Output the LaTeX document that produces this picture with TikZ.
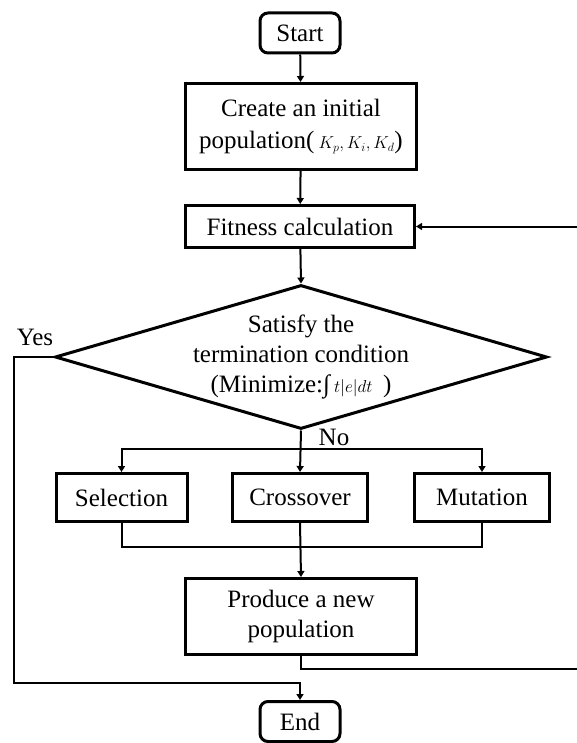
\documentclass[tikz,border=0pt]{standalone}
\usepackage{amsmath}
\usepackage{fontspec}
\setmainfont{Liberation Serif}
\usetikzlibrary{arrows.meta,shapes.geometric}

\newcommand\flowfont{\fontsize{25}{30}\selectfont}
\newcommand\smallmath{\fontsize{17}{17}\selectfont}

\begin{document}
\begin{tikzpicture}[x=1pt,y=-1pt,
  txt/.style={font=\flowfont, align=center, inner sep=0pt},
  box/.style={txt, draw, line width=3pt},
  term/.style={box, rounded corners=8pt, minimum width=80pt, minimum height=40pt},
  decision/.style={txt, diamond, draw, line width=3pt, shape aspect=3.4, inner sep=-12pt,
    minimum width=492pt, minimum height=144pt},
  flow/.style={line width=2pt, -{Triangle[length=6pt,width=7pt]}},
  link/.style={line width=2pt},
]
\useasboundingbox (0,0) rectangle (577,743);
\clip (0,0) rectangle (577,743);

% process boxes
\node[term] (start) at (300,33) {Start};
\node[box, minimum width=231pt, minimum height=86pt] (init) at (301,126.5)
  {Create an initial\\[2pt] population(\,{\smallmath$K_p,K_i,K_d$})};
\node[box, minimum width=229pt, minimum height=42pt] (fit) at (300,226.5) {Fitness calculation};

% decision
\node[decision] (dia) at (301,357)
  {Satisfy the\\termination condition\\(Minimize:∫\,{\smallmath$t|e|dt$}\, )};

% genetic operators
\node[box, minimum width=131pt, minimum height=48pt] (sel) at (121.5,497.5) {Selection};
\node[box, minimum width=135pt, minimum height=48pt] (cross) at (300,497.5) {Crossover};
\node[box, minimum width=135pt, minimum height=48pt] (mut) at (482,497.5) {Mutation};

\node[box, minimum width=231pt, minimum height=76pt] (prod) at (301,616.5) {Produce a new\\population};
\node[term] (end) at (300,721.5) {End};

% branch labels
\node[txt] (yes) at (35,337) {Yes};
\node[txt] (no) at (334,437) {No};

% helper points
\coordinate (br) at (300,449);
\coordinate (mg) at (300,547);
\coordinate (yc) at (14,683);
\coordinate (fb) at (590,669);

% connectors
\draw[flow] (start) -- (init);
\draw[flow] (init) -- (fit);
\draw[flow] (fit) -- (dia.north);
\draw[flow] (dia.south) -- (cross.north);
\draw[flow] (br) -| (sel.north);
\draw[flow] (br) -| (mut.north);
\draw[link] (sel.south) |- (mg);
\draw[link] (mut.south) |- (mg);
\draw[flow] (cross.south) -- (prod.north);
\draw[flow] (prod.south) |- (fb) |- (fit.east);
\draw[flow] (dia.west) -| (yc) -| (end.north);
\end{tikzpicture}
\end{document}
